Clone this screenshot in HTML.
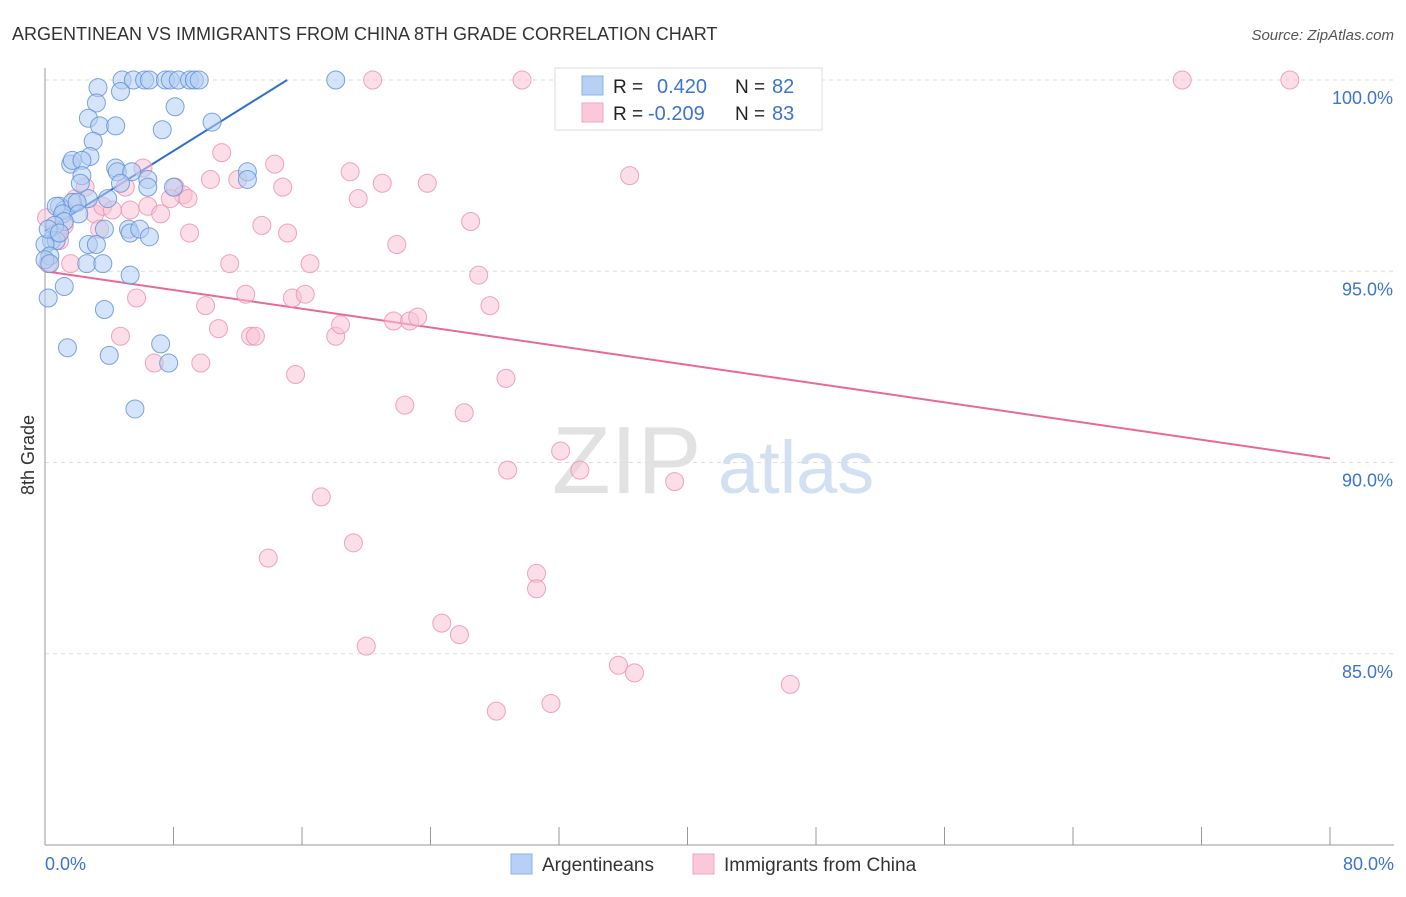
<!DOCTYPE html>
<html><head><meta charset="utf-8"><style>
body{margin:0;background:#fff;font-family:"Liberation Sans",sans-serif;}
svg text{font-family:"Liberation Sans",sans-serif;}
</style></head><body>
<svg id="chart" width="1406" height="892" viewBox="0 0 1406 892">
<text x="12" y="40" font-size="18" fill="#333">ARGENTINEAN VS IMMIGRANTS FROM CHINA 8TH GRADE CORRELATION CHART</text>
<text x="1394" y="40" font-size="15" fill="#555" font-style="italic" text-anchor="end">Source: ZipAtlas.com</text>
<text x="34" y="455" font-size="18" fill="#333" transform="rotate(-90 34 455)" text-anchor="middle">8th Grade</text>
<g><text x="552" y="493" font-size="96" fill="#e2e2e2" font-family="Liberation Serif">ZIP</text><text x="718" y="493" font-size="74" fill="#d2e0f2">atlas</text></g>
<g id="grid"></g><g id="axes"></g><g id="trend"></g><g id="pts"></g>
<g>
<rect x="555" y="68" width="267" height="62" fill="#fff" stroke="#ddd"/>
<rect x="582" y="76" width="21" height="19" fill="#b7d0f5" stroke="#8fb0e6"/>
<rect x="582" y="103" width="21" height="19" fill="#fbc8d8" stroke="#f0a7bf"/>
<text x="613" y="93" font-size="19" fill="#222">R =</text><text x="657" y="93" font-size="20" fill="#3d74cc">0.420</text>
<text x="735" y="93" font-size="19" fill="#222">N =</text><text x="772" y="93" font-size="20" fill="#3d74cc">82</text>
<text x="613" y="120" font-size="19" fill="#222">R =</text><text x="648" y="120" font-size="20" fill="#3d74cc">-0.209</text>
<text x="735" y="120" font-size="19" fill="#222">N =</text><text x="772" y="120" font-size="20" fill="#3d74cc">83</text>
</g>
<g>
<rect x="511" y="854" width="21" height="20" fill="#b7d0f5" stroke="#8fb0e6"/>
<text x="542" y="871" font-size="19" fill="#333">Argentineans</text>
<rect x="693" y="854" width="21" height="20" fill="#fbc8d8" stroke="#f0a7bf"/>
<text x="724" y="871" font-size="19" fill="#333">Immigrants from China</text>
</g>
</svg>
<script>
const yTicks=[100,95,90,85];
const yTickLabels=["100.0%","95.0%","90.0%","85.0%"];
const xTickLabels=["0.0%","80.0%"];
const blueX=[3.3,4.8,5.5,6.2,6.5,7.5,7.8,8.3,9.0,9.3,9.6,18.1,3.2,4.7,8.1,2.7,3.4,4.4,7.3,10.4,3.0,2.8,1.6,1.7,2.3,4.4,4.5,5.4,12.6,12.6,2.3,6.4,4.7,2.2,6.4,8.0,2.7,3.9,0.9,1.2,1.7,2.0,0.7,1.1,2.1,1.2,0.6,3.7,5.2,5.3,5.9,6.5,0.4,0.7,0,2.7,3.2,0.3,0,0.3,2.6,3.6,5.3,1.2,0.2,3.7,1.4,4.0,7.2,7.7,5.6,0.2,0.9];
const blueY=[99.8,100,100,100,100,100,100,100,100,100,100,100,99.4,99.7,99.3,99.0,98.8,98.8,98.7,98.9,98.4,98.0,97.8,97.9,97.9,97.7,97.6,97.6,97.6,97.4,97.5,97.4,97.3,97.3,97.2,97.2,96.9,96.9,96.7,96.6,96.8,96.8,96.7,96.5,96.5,96.3,96.2,96.1,96.1,96.0,96.1,95.9,95.8,95.8,95.7,95.7,95.7,95.4,95.3,95.2,95.2,95.2,94.9,94.6,94.3,94.0,93.0,92.8,93.1,92.6,91.4,96.1,96.0];
const pinkX=[0.1,0.2,1.6,0.9,1.2,0.8,1.9,2.5,3.1,3.6,4.2,5.0,3.4,4.7,5.7,5.3,6.1,6.4,7.2,8.1,8.6,7.8,8.9,6.8,9.0,9.7,10.0,10.3,10.8,11.0,11.5,12.0,12.5,12.8,13.1,13.5,13.9,14.3,14.8,15.1,15.4,15.6,16.2,16.5,17.2,18.1,18.4,19.0,19.2,19.5,20.0,20.4,21.0,21.7,21.9,22.4,22.7,23.2,23.8,24.7,25.8,26.1,26.5,27.0,27.7,28.1,28.7,28.8,29.7,30.6,30.6,31.5,32.1,33.0,33.3,35.7,36.4,36.7,39.2,46.4,70.8,77.5];
const pinkY=[96.4,95.2,95.2,95.8,96.2,96.0,96.9,97.2,96.5,96.7,96.6,97.2,96.1,93.3,94.3,96.6,97.7,96.7,96.5,97.2,97.0,96.9,96.9,92.6,96.0,92.6,94.1,97.4,93.5,98.1,95.2,97.4,94.4,93.3,93.3,96.2,87.5,97.8,97.2,96.0,94.3,92.3,94.4,95.2,89.1,93.3,93.6,97.6,87.9,96.9,85.2,100,97.3,93.7,95.7,91.5,93.7,93.8,97.3,85.8,85.5,91.3,96.3,94.9,94.1,83.5,92.2,89.8,100,87.1,86.7,83.7,90.3,100,89.8,84.7,97.5,84.5,89.5,84.2,100,100];
const blueTrend=[96.05,0.262];
const pinkTrend=[95.0,-0.0612];
const X=v=>45+v/80*1285, Y=v=>80+(100-v)*38.25;
const NS="http://www.w3.org/2000/svg";
function mk(t,a,p){const e=document.createElementNS(NS,t);for(const k in a)e.setAttribute(k,a[k]);p.appendChild(e);return e;}
const grid=document.getElementById('grid'),axes=document.getElementById('axes');
yTicks.forEach((v,i)=>{
 const l=mk('line',{x1:45,x2:1394,y1:Y(v),y2:Y(v),stroke:'#ddd','stroke-dasharray':'4 4'},grid);
 
 
 const t=mk('text',{x:1393,y:Y(v)+24,'font-size':18,fill:'#3d74cc','text-anchor':'end'},axes);t.textContent=yTickLabels[i];
 
 
});
const ya=mk('line',{x1:45,x2:45,y1:68,y2:845,stroke:'#999'},axes);


const xa=mk('line',{x1:45,x2:1394,y1:845,y2:845,stroke:'#999'},axes);


for(let i=0;i<=10;i++){const tk=mk('line',{x1:X(i*8),x2:X(i*8),y1:827,y2:845,stroke:'#999'},axes);
 
 }
[[0,'start',45],[80,'end',1394]].forEach((d,i)=>{const t=mk('text',{x:d[2],y:870,'font-size':18,fill:'#3d74cc','text-anchor':d[1]},axes);t.textContent=xTickLabels[i];
 
 });
const pts=document.getElementById('pts');
function series(xs,ys,fill,stroke,name){xs.forEach((x,i)=>{const c=mk('circle',{cx:X(x),cy:Y(ys[i]),r:9,fill:fill,'fill-opacity':0.55,stroke:stroke,'stroke-opacity':0.8,'stroke-width':1},pts);
 
 });}
series(pinkX,pinkY,'#f8c2d3','#ec8fae','point-china');
series(blueX,blueY,'#b3cdf3','#5d8fd8','point-argentineans');
const tr=document.getElementById('trend');
const bEnd=(100-blueTrend[0])/blueTrend[1];
const bl=mk('line',{x1:X(0),y1:Y(blueTrend[0]),x2:X(bEnd),y2:Y(100),stroke:'#2f6fd0','stroke-width':2},tr);


const pl=mk('line',{x1:X(0),y1:Y(pinkTrend[0]),x2:X(80),y2:Y(pinkTrend[0]+pinkTrend[1]*80),stroke:'#e8689a','stroke-width':2},tr);


</script>
</body></html>
